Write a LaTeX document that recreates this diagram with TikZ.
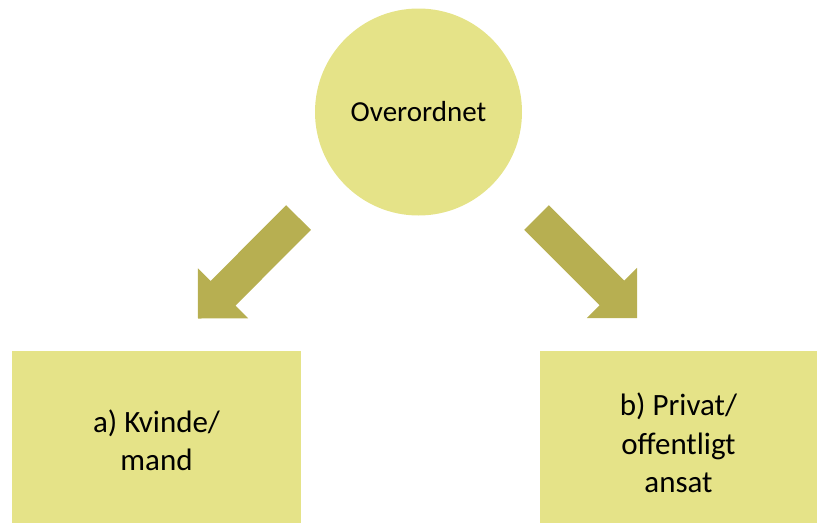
\documentclass[tikz,border=0pt]{standalone}
\usepackage{fontspec}
\setmainfont{Carlito}
\usetikzlibrary{calc}

\definecolor{boxfill}{HTML}{E5E388}
\definecolor{arrowfill}{HTML}{B7AF51}

% filled block arrow from tail centre #1 to tip #2
\newcommand{\blockarrow}[2]{%
  \fill[arrowfill] let \p1=($(#2)-(#1)$), \n1={atan2(\y1,\x1)},
  \n2={veclen(\x1,\y1)} in [shift={(#1)},rotate=\n1]
  (0pt,17.5pt) -- (\n2-35.5pt,17.5pt) -- (\n2-35.5pt,35.5pt) -- (\n2,0pt)
  -- (\n2-35.5pt,-35.5pt) -- (\n2-35.5pt,-17.5pt) -- (0pt,-17.5pt) -- cycle;}

\begin{document}
\begin{tikzpicture}[x=1pt,y=-1pt,
    box/.style={fill=boxfill,inner sep=0pt},
    boxtext/.style={inner sep=0pt,align=center,
      font=\fontsize{31}{38.3}\selectfont}]
    \useasboundingbox (0,0) rectangle (817,523);

    \node[box,circle,minimum size=207pt,font=\fontsize{29}{35}\selectfont]
    (top) at (418.5,112) {Overordnet};
    \node[box,minimum width=289pt,minimum height=172pt] (left) at (156.5,437) {};
    \node[box,minimum width=277pt,minimum height=172pt] (right) at (678.5,437) {};
    \node[boxtext] (lefttext) at ([yshift=-3pt]left.center) {a) Kvinde/\\mand};
    \node[boxtext] (righttext) at ([yshift=-6pt]right.center)
    {b) Privat/\\offentligt\\ansat};

    \coordinate (ltail) at (298.5,217.5); \coordinate (ltip) at (198,318.5);
    \coordinate (rtail) at (536.5,217.5); \coordinate (rtip) at (637,318);
    \blockarrow{ltail}{ltip}
    \blockarrow{rtail}{rtip}
  \end{tikzpicture}
\end{document}
